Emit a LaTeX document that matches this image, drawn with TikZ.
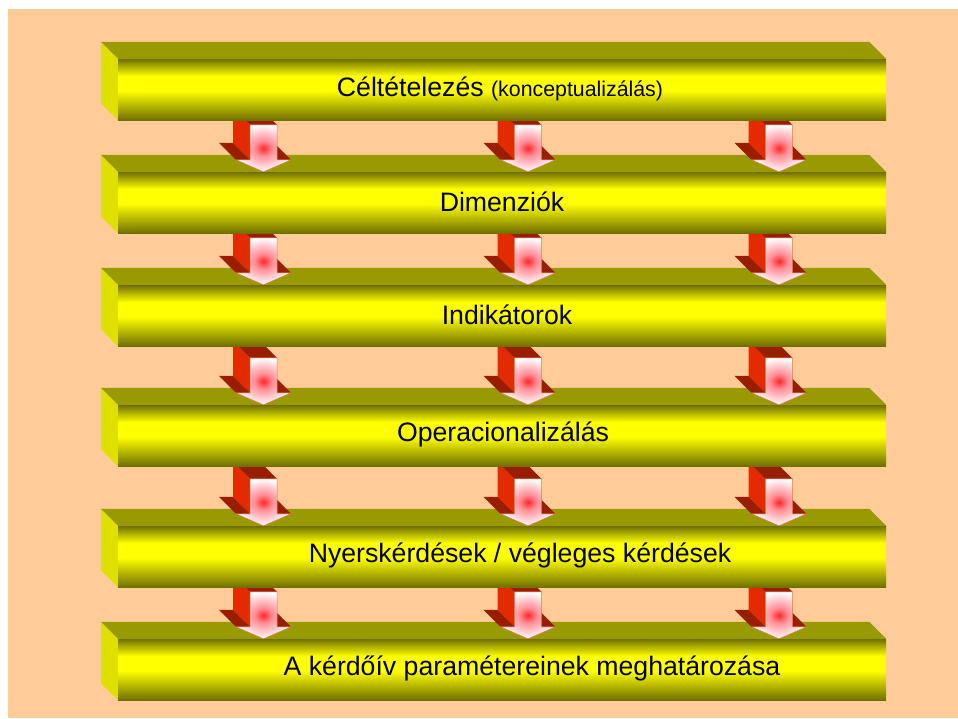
\documentclass[tikz,border=0pt]{standalone}
\usepackage{fontspec}
\setmainfont{Liberation Sans}
\usetikzlibrary{calc}

\definecolor{paper}{RGB}{255,204,153}
\definecolor{bartop}{RGB}{153,153,0}
\definecolor{barside}{RGB}{224,224,0}
\definecolor{bardark}{RGB}{112,112,0}
\definecolor{baryellow}{RGB}{255,255,0}
\definecolor{arrowside}{RGB}{227,42,0}
\definecolor{arrowtop}{RGB}{153,30,0}
\definecolor{arrowedge}{RGB}{240,110,70}
\definecolor{glowred}{RGB}{255,40,40}
\definecolor{glowpink}{RGB}{255,140,150}

% red glow in the middle of each arrow's front face
\pgfdeclareradialshading{arrowglow}{\pgfpoint{0bp}{0bp}}{%
  color(0bp)=(glowred); color(8bp)=(glowpink); color(25bp)=(white); color(50bp)=(white)}
% olive-yellow-olive band across a bar's front face
% (the face spans 25bp at the bottom to 75bp at the top)
\pgfdeclareverticalshading{barglow}{100bp}{%
  color(0bp)=(bardark); color(25bp)=(bardark); color(49bp)=(baryellow);
  color(61bp)=(baryellow); color(75bp)=(bardark); color(100bp)=(bardark)}

\tikzset{
  bar/.style={minimum width=768pt, minimum height=61pt, inner sep=0pt,
    shade, shading=barglow},
  bartext/.style={inner sep=0pt, font=\fontsize{26.67}{32}\selectfont}
}

% top and left faces of a bar whose front face is node #1
\newcommand\barfaces[1]{%
  \fill[bartop] (#1.north west) -- ++(-17,-17) -- ($(#1.north east)+(-17,-17)$)
    -- (#1.north east) -- cycle;
  \fill[barside] (#1.north west) -- ++(-17,-17) -- ($(#1.south west)+(-17,-17)$)
    -- (#1.south west) -- cycle;
}

% block arrow in column #1 whose tip touches the top of bar #2
\newcommand\blockarrow[2]{%
  \begin{scope}[shift={(#1 |- #2.north)}]
    \fill[arrowside] (-13.5,-47) -- (-30.5,-64) -- (-30.5,-29) -- (-13.5,-12) -- cycle;
    \fill[arrowtop] (-13.5,-47) -- (13.5,-47) -- (-3.5,-64) -- (-30.5,-64) -- cycle;
    \fill[arrowtop] (-27.5,-12) -- (-13.5,-12) -- (-30.5,-29) -- (-44.5,-29) -- cycle;
    \fill[arrowtop] (13.5,-12) -- (27.5,-12) -- (10.5,-29) -- (-3.5,-29) -- cycle;
    \shade[shading=arrowglow, draw=arrowedge, line width=0.5pt]
      (-13.5,-47) -- (13.5,-47) -- (13.5,-12) -- (27.5,-12) -- (0,0)
      -- (-27.5,-12) -- (-13.5,-12) -- cycle;
  \end{scope}
}
\newcommand\arrowsinto[1]{%
  \blockarrow{c1}{#1}\blockarrow{c2}{#1}\blockarrow{c3}{#1}}

\begin{document}
\begin{tikzpicture}[x=1pt,y=-1pt]
  \fill[white] (0,0) rectangle (958,718);
  \fill[paper] (8,9) rectangle (958,718);
  \useasboundingbox (0,0) rectangle (958,718);

  % arrow columns
  \coordinate (c1) at (263.5,0);
  \coordinate (c2) at (528,0);
  \coordinate (c3) at (779,0);

  % bars from bottom to top, each followed by the arrows that point into it
  \node[bar] (b6) at (502,669.5) {};
  \barfaces{b6}
  \node[bartext] (t6) at ($(b6)+(30,-1)$) {A kérdőív paramétereinek meghatározása};
  \arrowsinto{b6}

  \node[bar] (b5) at (502,556.5) {};
  \barfaces{b5}
  \node[bartext] (t5) at ($(b5)+(18,-1)$) {Nyerskérdések / végleges kérdések};
  \arrowsinto{b5}

  \node[bar] (b4) at (502,435.5) {};
  \barfaces{b4}
  \node[bartext] (t4) at ($(b4)+(1,-1)$) {Operacionalizálás};
  \arrowsinto{b4}

  \node[bar] (b3) at (502,315.5) {};
  \barfaces{b3}
  \node[bartext] (t3) at ($(b3)+(5,-1)$) {Indikátorok};
  \arrowsinto{b3}

  \node[bar] (b2) at (502,202.5) {};
  \barfaces{b2}
  \node[bartext] (t2) at ($(b2)+(0,-1)$) {Dimenziók};
  \arrowsinto{b2}

  \node[bar] (b1) at (502,89.5) {};
  \barfaces{b1}
  \node[bartext] (t1) at ($(b1)+(-2,-1)$)
    {Céltételezés {\fontsize{21.33}{26}\selectfont (konceptualizálás)}};
\end{tikzpicture}
\end{document}
